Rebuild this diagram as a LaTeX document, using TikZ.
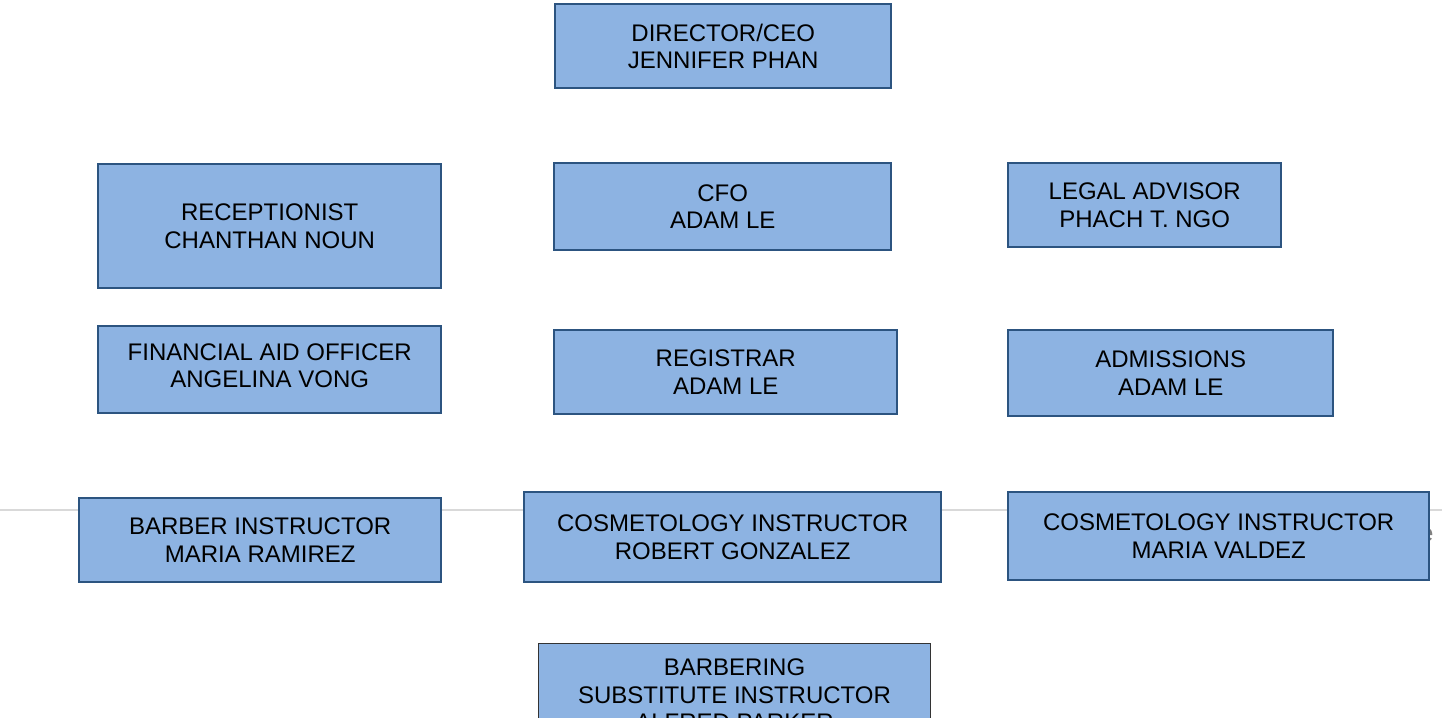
\documentclass[tikz,border=0pt]{standalone}
\usepackage{fontspec}
\setmainfont{Liberation Sans}
\definecolor{boxfill}{HTML}{8DB3E2}
\definecolor{boxline}{HTML}{2C5480}
\definecolor{rulegray}{HTML}{D9D9D9}
\begin{document}
\begin{tikzpicture}[x=1pt,y=-1pt,
  boxtxt/.style={font=\fontsize{24}{27.5}\selectfont, align=center, inner sep=0pt},
  box/.style={boxtxt, draw=boxline, line width=2.4pt, fill=boxfill, anchor=north west},
  plainbox/.style={boxtxt, draw=black!80, line width=1pt, fill=boxfill, anchor=north west}]
\useasboundingbox (0,0) rectangle (1442,717);
\clip (0,0) rectangle (1442,717);
\fill[white] (0,0) rectangle (1442,717);
\coordinate (ruleL) at (0,510);
\coordinate (ruleR) at (1442,510);
\draw[rulegray, line width=1.5pt] (ruleL) -- (ruleR);
\node[font=\fontsize{24}{27.5}\selectfont, text=gray, inner sep=0pt, anchor=base west] (frag) at (1420,541) {e};

\node[box, minimum width=336pt, minimum height=84pt] (dir) at (554,3) {DIRECTOR/CEO\\JENNIFER PHAN};
\node[box, minimum width=343pt, minimum height=124pt] (rec) at (97,163) {RECEPTIONIST\\CHANTHAN NOUN};
\node[box, minimum width=337pt, minimum height=87pt] (cfo) at (553,162) {CFO\\ADAM LE};
\node[box, minimum width=273pt, minimum height=84pt] (legal) at (1007,162) {LEGAL ADVISOR\\PHACH T. NGO};
\node[box, minimum width=343pt, minimum height=87pt] (fin) at (97,325) {};
\node[boxtxt] (fintxt) at ([yshift=4pt]fin.center) {FINANCIAL AID OFFICER\\ANGELINA VONG};
\node[box, minimum width=343pt, minimum height=84pt] (reg) at (553,329) {REGISTRAR\\ADAM LE};
\node[box, minimum width=325pt, minimum height=86pt] (adm) at (1007,329) {ADMISSIONS\\ADAM LE};
\node[box, minimum width=362pt, minimum height=84pt] (barb) at (78,497) {BARBER INSTRUCTOR\\MARIA RAMIREZ};
\node[box, minimum width=417pt, minimum height=90pt] (cos1) at (523,491) {COSMETOLOGY INSTRUCTOR\\ROBERT GONZALEZ};
\node[box, minimum width=421pt, minimum height=88pt] (cos2) at (1007,491) {COSMETOLOGY INSTRUCTOR\\MARIA VALDEZ};
\node[plainbox, minimum width=392pt, minimum height=103pt] (bbr) at (538,643) {BARBERING\\SUBSTITUTE INSTRUCTOR\\ALFRED PARKER};
\end{tikzpicture}
\end{document}
